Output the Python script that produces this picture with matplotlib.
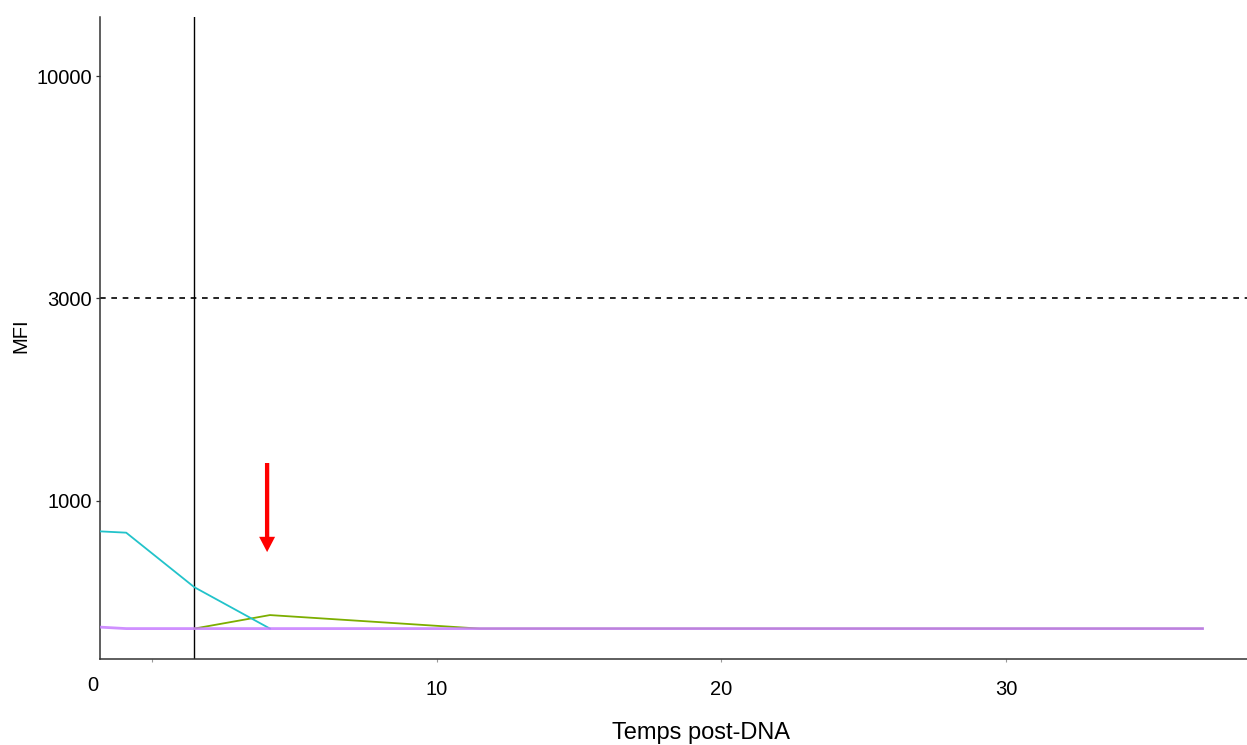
import numpy as np
import matplotlib
matplotlib.use('Agg')
import matplotlib.pyplot as plt
from matplotlib.ticker import FixedLocator, NullLocator

plt.rcParams['font.family'] = ['Liberation Sans', 'DejaVu Sans']

# Suivi des MFI en fonction du temps post-DNA
temps_bleu = [-1.83, -0.91, 1.48, 4.14]
mfi_bleu = [847, 841, 626, 500]

temps_vert = [1.48, 4.14, 11.5, 36.9]
mfi_vert = [500, 538, 500, 500]

temps_violet = [-1.83, -0.91, 1.48, 4.14, 11.5, 36.9]
mfi_violet = [504, 500, 500, 500, 500, 500]

seuil_mfi = 3000
temps_greffe = 1.48
fleche_x = 4.04
fleche_haut, fleche_bas = 1227, 757

xticks = [0, 10, 20, 30]
yticks = [1000, 3000, 10000]

fig = plt.figure(figsize=(12.47, 7.45), dpi=100)
ax = fig.add_axes([100 / 1247, 1 - 659 / 745, 1147 / 1247, 642 / 745])

ax.plot(temps_vert, mfi_vert, color='#7CAE00', lw=1.3, zorder=3)
ax.plot(temps_bleu, mfi_bleu, color='#22C3CA', lw=1.3, zorder=4)
ax.plot(temps_violet, mfi_violet, color='#C77CFF', lw=2.0, alpha=0.85, zorder=5)

ax.axhline(seuil_mfi, color='black', ls=(0, (3.4, 3.4)), lw=1.2, zorder=2)
ax.axvline(temps_greffe, color='black', lw=1.0, zorder=2)

# flèche rouge : largeur du trait et de la pointe en points
ax.annotate('', xy=(fleche_x, fleche_bas), xytext=(fleche_x, fleche_haut),
            arrowprops=dict(width=3.1, headwidth=11.5, headlength=11,
                            shrink=0, color='red', lw=0), zorder=6)

ax.set_yscale('log')
ax.set_xlim(-1.83, 38.46)
ax.set_ylim(424, 13770)

ax.yaxis.set_major_locator(FixedLocator(yticks))
ax.yaxis.set_minor_locator(NullLocator())
ax.set_yticklabels([str(v) for v in yticks])

ax.set_xticks(xticks)
ax.set_xticklabels([''] + [str(v) for v in xticks[1:]])
# l'étiquette "0" est décalée à gauche de son repère
ax.text(-2.1, -0.041, '0', transform=ax.get_xaxis_transform(),
        ha='center', va='center', fontsize=14.5)

for s in ['top', 'right']:
    ax.spines[s].set_visible(False)
for s in ['left', 'bottom']:
    ax.spines[s].set_color('#333333')
    ax.spines[s].set_linewidth(1.1)

ax.tick_params(axis='y', length=3, width=0.9, color='#333333', pad=3,
               labelsize=14.5, labelcolor='black')
ax.tick_params(axis='x', length=2, width=0.8, color='#999999', pad=13,
               labelsize=14.5, labelcolor='black')

ax.set_xlabel('Temps post-DNA', fontsize=17)
ax.xaxis.label.set_va('center')
ax.xaxis.set_label_coords(0.524, -0.115)
ax.set_ylabel('MFI', fontsize=14.5)
ax.yaxis.label.set_va('center')
ax.yaxis.set_label_coords(-0.0689, 0.503)

plt.savefig('out.png', dpi=100)
